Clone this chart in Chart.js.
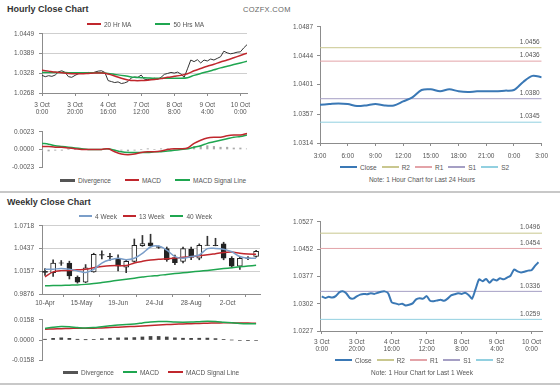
<!DOCTYPE html>
<html>
<head>
<meta charset="utf-8">
<script src="https://cdn.jsdelivr.net/npm/chart.js@4.4.1/dist/chart.umd.min.js"></script>
<style>
  body { margin: 0; background: #fff; font-family: "Liberation Sans", Arial, sans-serif; }
  #wrap { position: relative; width: 560px; height: 386px; overflow: hidden; }
  canvas { position: absolute; }
  .title { position: absolute; font-weight: bold; font-size: 9px; color: #333; line-height: 10px; }
  .brand { position: absolute; font-size: 7.5px; color: #666; letter-spacing: 0.3px; line-height: 9px; }
  .sep { position: absolute; left: 0; width: 560px; height: 2px; background: #c8c8c8; }
  .legend { position: absolute; display: flex; align-items: center; height: 8px; font-size: 6.5px; color: #555; white-space: nowrap; }
  .legend .mk { display: inline-block; margin-right: 3px; }
  .note { position: absolute; font-size: 6.5px; color: #555; line-height: 8px; transform: translateX(-50%); white-space: nowrap; }
</style>
</head>
<body>
<div id="wrap">
  <div class="title" style="left:7px;top:4px">Hourly Close Chart</div>
  <div class="brand" style="left:243px;top:5px">COZFX.COM</div>
  <div class="sep" style="top:191px"></div>
  <div class="title" style="left:7px;top:197px">Weekly Close Chart</div>
  <div class="sep" style="top:383px"></div>

  <canvas id="hourly-close" width="259" height="96" style="left:0;top:25px"></canvas>
  <canvas id="hourly-macd" width="259" height="53" style="left:0;top:123px"></canvas>
  <canvas id="day-close" width="274" height="144" style="left:280px;top:19px"></canvas>
  <canvas id="weekly-close" width="268" height="91" style="left:0;top:217px"></canvas>
  <canvas id="weekly-macd" width="270" height="58" style="left:0;top:311px"></canvas>
  <canvas id="lastweek-close" width="272" height="139" style="left:280px;top:214px"></canvas>
</div>

<script>
// --- data ---

// hourly chart: close every 2 hours from 3 Oct 0:00, the rest every 4 hours
const HOURLY_TICKS = [["3 Oct", "0:00"], ["3 Oct", "20:00"], ["4 Oct", "16:00"], ["7 Oct", "12:00"], ["8 Oct", "8:00"], ["9 Oct", "4:00"], ["10 Oct", "0:00"]];
const HOURLY_Y_TICKS = [1.0268, 1.0328, 1.0389, 1.0449];
const HOURLY_CLOSE = [
  1.0322, 1.0318, 1.0321, 1.0319, 1.0323, 1.0333, 1.0336, 1.0331, 1.0318, 1.0316,
  1.0322, 1.0327, 1.0329, 1.0328, 1.0331, 1.0329, 1.0332, 1.0335, 1.0336, 1.0331,
  1.0306, 1.0303, 1.0300, 1.0302, 1.0297, 1.0299, 1.0303, 1.0314, 1.0317, 1.0316,
  1.0323, 1.0310, 1.0309, 1.0311, 1.0313, 1.0310, 1.0316, 1.0325, 1.0328, 1.0331,
  1.0329, 1.0332, 1.0326, 1.0316, 1.0342, 1.0369, 1.0364, 1.0370, 1.0360, 1.0369,
  1.0366, 1.0372, 1.0369, 1.0374, 1.0379, 1.0396, 1.0391, 1.0388, 1.0390, 1.0393,
  1.0394, 1.0406, 1.0416
];
const HOURLY_MA20 = [
  1.0338, 1.0335, 1.0332, 1.0330, 1.0328, 1.0327, 1.0327, 1.0328, 1.0329, 1.0329,
  1.0326, 1.0320, 1.0313, 1.0308, 1.0306, 1.0306, 1.0307, 1.0309, 1.0312, 1.0316,
  1.0319, 1.0322, 1.0327, 1.0336, 1.0343, 1.0350, 1.0356, 1.0363, 1.0369, 1.0376,
  1.0383, 1.0390
];
const HOURLY_MA50 = [
  1.0331, 1.0331, 1.0331, 1.0331, 1.0330, 1.0330, 1.0330, 1.0330, 1.0330, 1.0330,
  1.0328, 1.0325, 1.0322, 1.0319, 1.0316, 1.0315, 1.0314, 1.0313, 1.0313, 1.0313,
  1.0313, 1.0313, 1.0315, 1.0322, 1.0328, 1.0333, 1.0339, 1.0345, 1.0350, 1.0355,
  1.0360, 1.0365
];
const HOURLY_MACD_TICKS = [-0.0023, 0, 0.0023];
const HOURLY_MACD = [
  0.0004, 0.0004, 0.0003, 0.0003, 0.0002, 0.0001, 0.0000, 0.0000, 0.0000, 0.0000,
  0.0001, -0.0003, -0.0006, -0.0007, -0.0006, -0.0004, -0.0003, -0.0003, -0.0002, 0.0000,
  0.0001, 0.0001, 0.0002, 0.0008, 0.0012, 0.0015, 0.0016, 0.0016, 0.0018, 0.0019,
  0.0019, 0.0021
];
const HOURLY_SIGNAL = [
  0.0008, 0.0007, 0.0005, 0.0004, 0.0003, 0.0002, 0.0001, 0.0000, 0.0000, 0.0000,
  0.0001, -0.0001, -0.0003, -0.0004, -0.0004, -0.0004, -0.0004, -0.0003, -0.0003, -0.0002,
  -0.0001, 0.0000, 0.0001, 0.0003, 0.0005, 0.0008, 0.0010, 0.0012, 0.0014, 0.0016,
  0.0017, 0.0019
];
const HOURLY_DIVERGENCE = [
  -0.0002, -0.0002, -0.0001, -0.0001, 0.0000, 0.0000, 0.0000, 0.0000, 0.0000, 0.0000,
  0.0000, -0.0001, -0.0001, -0.0002, -0.0001, 0.0000, 0.0001, 0.0000, 0.0001, 0.0001,
  0.0001, 0.0001, 0.0001, 0.0004, 0.0005, 0.0005, 0.0004, 0.0003, 0.0003, 0.0002,
  0.0002, 0.0001
];

// last 24 hours, one value per hour from 3:00
const DAY_TICKS = ["3:00", "6:00", "9:00", "12:00", "15:00", "18:00", "21:00", "0:00", "3:00"];
const DAY_Y_TICKS = [1.0314, 1.0357, 1.0401, 1.0444, 1.0487];
const DAY_CLOSE = [
  1.0371, 1.0372, 1.0373, 1.0372, 1.0369, 1.0370, 1.0372, 1.0370, 1.0370, 1.0376,
  1.0382, 1.0393, 1.0394, 1.0391, 1.0394, 1.0391, 1.0390, 1.0391, 1.0391, 1.0391,
  1.0392, 1.0393, 1.0405, 1.0414, 1.0412
];
const DAY_LEVELS = [1.0456, 1.0436, 1.0380, 1.0345]; // R2, R1, S1, S2

// weekly candles from 10-Apr
const WEEK_TICKS = ["10-Apr", "15-May", "19-Jun", "24-Jul", "28-Aug", "2-Oct"];
const WEEK_Y_TICKS = [0.9876, 1.0157, 1.0437, 1.0718];
const WEEK_OPEN = [
  1.0155, 1.0140, 1.0262, 1.0259, 1.0083, 1.0022, 1.0149, 1.0362, 1.0342, 1.0318,
  1.0208, 1.0279, 1.0475, 1.0508, 1.0462, 1.0437, 1.0327, 1.0280, 1.0430, 1.0318,
  1.0481, 1.0478, 1.0496, 1.0318, 1.0220, 1.0322, 1.0340
];
const WEEK_HIGH = [
  1.0190, 1.0299, 1.0290, 1.0282, 1.0100, 1.0240, 1.0380, 1.0410, 1.0378, 1.0359,
  1.0299, 1.0556, 1.0600, 1.0615, 1.0470, 1.0457, 1.0358, 1.0457, 1.0457, 1.0496,
  1.0590, 1.0565, 1.0516, 1.0338, 1.0338, 1.0340, 1.0415
];
const WEEK_LOW = [
  1.0105, 1.0093, 1.0230, 1.0062, 1.0010, 1.0015, 1.0145, 1.0311, 1.0292, 1.0160,
  1.0140, 1.0270, 1.0465, 1.0465, 1.0440, 1.0280, 1.0240, 1.0259, 1.0299, 1.0299,
  1.0477, 1.0472, 1.0299, 1.0200, 1.0181, 1.0300, 1.0330
];
const WEEK_CLOSE = [
  1.0143, 1.0259, 1.0256, 1.0101, 1.0022, 1.0200, 1.0366, 1.0356, 1.0336, 1.0220,
  1.0279, 1.0477, 1.0500, 1.0470, 1.0452, 1.0300, 1.0262, 1.0437, 1.0327, 1.0477,
  1.0476, 1.0474, 1.0318, 1.0220, 1.0318, 1.0316, 1.0405
];
const WEEK_MA4 = [
  1.0181, 1.0183, 1.0191, 1.0181, 1.0161, 1.0142, 1.0181, 1.0259, 1.0299, 1.0318,
  1.0299, 1.0318, 1.0378, 1.0457, 1.0469, 1.0418, 1.0339, 1.0318, 1.0339, 1.0358,
  1.0437, 1.0440, 1.0430, 1.0398, 1.0339, 1.0318, 1.0318
];
const WEEK_MA13 = [
  1.0089, 1.0150, 1.0165, 1.0168, 1.0175, 1.0181, 1.0200, 1.0215, 1.0225, 1.0227,
  1.0227, 1.0260, 1.0280, 1.0295, 1.0305, 1.0312, 1.0320, 1.0330, 1.0338, 1.0348,
  1.0360, 1.0375, 1.0390, 1.0395, 1.0380, 1.0371, 1.0368
];
const WEEK_MA40 = [
  0.9978, 0.9980, 0.9982, 0.9985, 0.9988, 0.9995, 1.0005, 1.0018, 1.0032, 1.0045,
  1.0058, 1.0072, 1.0085, 1.0097, 1.0106, 1.0118, 1.0128, 1.0138, 1.0148, 1.0158,
  1.0168, 1.0178, 1.0190, 1.0200, 1.0212, 1.0222, 1.0230
];
const WEEK_MACD_TICKS = [-0.0158, 0, 0.0158];
const WEEK_MACD = [
  0.0091, 0.0100, 0.0106, 0.0104, 0.0098, 0.0094, 0.0098, 0.0105, 0.0112, 0.0118,
  0.0121, 0.0126, 0.0134, 0.0142, 0.0146, 0.0145, 0.0141, 0.0140, 0.0141, 0.0144,
  0.0147, 0.0145, 0.0140, 0.0135, 0.0130, 0.0128, 0.0128
];
const WEEK_SIGNAL = [
  0.0085, 0.0087, 0.0089, 0.0091, 0.0092, 0.0092, 0.0093, 0.0095, 0.0098, 0.0101,
  0.0104, 0.0107, 0.0110, 0.0114, 0.0118, 0.0121, 0.0124, 0.0126, 0.0128, 0.0130,
  0.0132, 0.0134, 0.0135, 0.0135, 0.0134, 0.0133, 0.0132
];
const WEEK_DIVERGENCE = [
  0.0006, 0.0013, 0.0017, 0.0013, 0.0006, 0.0002, 0.0005, 0.0010, 0.0014, 0.0017,
  0.0017, 0.0019, 0.0024, 0.0028, 0.0028, 0.0024, 0.0017, 0.0014, 0.0013, 0.0014,
  0.0015, 0.0011, 0.0005, 0.0000, -0.0004, -0.0005, -0.0004
];

// last week, hourly: same close series as the hourly chart
const LASTWEEK_Y_TICKS = [1.0227, 1.0302, 1.0377, 1.0452, 1.0527];
const LASTWEEK_LEVELS = [1.0496, 1.0454, 1.0336, 1.0259]; // R2, R1, S1, S2

// --- styles ---

const FONT_FAMILY = "'Liberation Sans', Arial, sans-serif";
const FONT = { family: FONT_FAMILY, size: 6.5, lineHeight: 1.2 };
const TEXT_COLOR = "#555";
const AXIS_COLOR = "#8c8c8c";
const GRID_COLOR = "#cfcfcf";

const RED = "#c0272d";
const GREEN = "#1fa650";
const BLUE = "#3a78b5";
const LEVEL_COLORS = ["#c9c78f", "#e3a3a8", "#a59fc4", "#92d0e0"];
const LEVEL_NAMES = ["R2", "R1", "S1", "S2"];

Chart.defaults.animation = false;
Chart.defaults.responsive = false;
Chart.defaults.plugins.legend.display = false;
Chart.defaults.plugins.tooltip.enabled = false;
Chart.defaults.elements.point.radius = 0;

// --- helpers ---

function points(values, step) {
  return values.map(function (v, i) {
    return { x: i * step, y: v };
  });
}

function scale_y(ticks, width, pad, grid) {
  return {
    type: "linear",
    min: ticks[0],
    max: ticks[ticks.length - 1],
    afterFit: function (s) { s.width = width; },
    afterBuildTicks: function (s) {
      s.ticks = ticks.map(function (v) { return { value: v }; });
    },
    ticks: {
      font: FONT, color: TEXT_COLOR, padding: pad,
      callback: function (v) { return v.toFixed(4); },
    },
    grid: { drawOnChartArea: grid, color: GRID_COLOR, tickLength: 3, tickColor: AXIS_COLOR },
    border: { color: AXIS_COLOR },
  };
}

function scale_x(min, max, labels, step, height, pad) {
  return {
    type: "linear",
    min: min,
    max: max,
    offset: false,
    afterFit: function (s) { s.height = height; },
    afterBuildTicks: function (s) {
      s.ticks = labels.map(function (l, i) { return { value: i * step }; });
    },
    ticks: {
      font: FONT, color: TEXT_COLOR, padding: pad, maxRotation: 0, autoSkip: false,
      callback: function (v, i) { return labels[i]; },
    },
    grid: { drawOnChartArea: false, tickLength: 3, tickColor: AXIS_COLOR },
    border: { color: AXIS_COLOR },
  };
}

function line(label, data, color, width, tension) {
  return {
    type: "line", label: label, data: data, borderColor: color,
    borderWidth: width, tension: tension || 0, fill: false,
  };
}

function levels(values, min, max) {
  return values.map(function (v, i) {
    return line(LEVEL_NAMES[i], [{ x: min, y: v }, { x: max, y: v }], LEVEL_COLORS[i], 1);
  });
}

// writes the R/S level values above their lines
const levelLabelPlugin = {
  id: "levelLabels",
  afterDatasetsDraw: function (chart, args, opts) {
    if (!opts.values) return;
    const ctx = chart.ctx;
    const y = chart.scales.y;
    ctx.save();
    ctx.font = "6.5px " + FONT_FAMILY;
    ctx.fillStyle = TEXT_COLOR;
    ctx.textAlign = "right";
    ctx.textBaseline = "middle";
    opts.values.forEach(function (v) {
      ctx.fillText(v.toFixed(4), chart.chartArea.right - 2, y.getPixelForValue(v) - 5.5);
    });
    ctx.restore();
  },
};

function legend_render(left, cy, gap, items) {
  const el = document.createElement("div");
  el.className = "legend";
  el.style.left = left + "px";
  el.style.top = (cy - 4) + "px";
  items.forEach(function (it, i) {
    const mk = document.createElement("span");
    mk.className = "mk";
    mk.style.width = it.w + "px";
    mk.style.height = (it.box ? 3 : 1.5) + "px";
    mk.style.background = it.color;
    const tx = document.createElement("span");
    tx.textContent = it.text;
    if (i < items.length - 1) tx.style.marginRight = gap + "px";
    el.appendChild(mk);
    el.appendChild(tx);
  });
  document.getElementById("wrap").appendChild(el);
}

function note_render(cx, cy, text) {
  const el = document.createElement("div");
  el.className = "note";
  el.style.left = cx + "px";
  el.style.top = (cy - 4) + "px";
  el.textContent = text;
  document.getElementById("wrap").appendChild(el);
}

// --- charts ---

new Chart(document.getElementById("hourly-close"), {
  type: "line",
  data: {
    datasets: [
      line("20 Hr MA", points(HOURLY_MA20, 4), RED, 1.5, 0.3),
      line("50 Hrs MA", points(HOURLY_MA50, 4), GREEN, 1.5, 0.3),
      line("Close", points(HOURLY_CLOSE, 2), "#333", 1),
    ],
  },
  options: {
    layout: { padding: { top: 6, right: 12, left: 0, bottom: 0 } },
    scales: {
      x: scale_x(0, 124, HOURLY_TICKS, 20, 28, 5),
      y: scale_y(HOURLY_Y_TICKS, 42, 5, true),
    },
  },
});

new Chart(document.getElementById("hourly-macd"), {
  type: "line",
  data: {
    datasets: [
      line("MACD", points(HOURLY_MACD, 4), RED, 1.5, 0.3),
      line("MACD Signal Line", points(HOURLY_SIGNAL, 4), GREEN, 1.5, 0.3),
      {
        type: "bar", label: "Divergence", data: points(HOURLY_DIVERGENCE, 4),
        backgroundColor: "#aaa", barThickness: 1.5, grouped: false,
      },
    ],
  },
  options: {
    layout: { padding: { top: 6, right: 12, left: 0, bottom: 5 } },
    scales: {
      x: { type: "linear", min: 0, max: 124, display: false, offset: false },
      y: scale_y(HOURLY_MACD_TICKS, 42, 5, false),
    },
  },
});

new Chart(document.getElementById("day-close"), {
  type: "line",
  data: {
    datasets: [line("Close", points(DAY_CLOSE, 1), BLUE, 2, 0.3)].concat(levels(DAY_LEVELS, 0, 24)),
  },
  options: {
    layout: { padding: { top: 6, right: 10, left: 0, bottom: 0 } },
    plugins: { levelLabels: { values: DAY_LEVELS } },
    scales: {
      x: scale_x(0, 24, DAY_TICKS, 3, 20, 6),
      y: scale_y(DAY_Y_TICKS, 40, 4, false),
    },
  },
  plugins: [levelLabelPlugin],
});

const candleBodies = WEEK_OPEN.map(function (o, i) {
  return { x: i, y: [o, WEEK_CLOSE[i]] };
});
const candleWicks = WEEK_LOW.map(function (l, i) {
  return { x: i, y: [l, WEEK_HIGH[i]] };
});
const bodyColors = WEEK_OPEN.map(function (o, i) {
  return WEEK_CLOSE[i] >= o ? "#fff" : "#222";
});

new Chart(document.getElementById("weekly-close"), {
  type: "bar",
  data: {
    datasets: [
      line("4 Week", points(WEEK_MA4, 1), "#7b9ec9", 1.5, 0.3),
      line("13 Week", points(WEEK_MA13, 1), RED, 1.5, 0.3),
      line("40 Week", points(WEEK_MA40, 1), GREEN, 1.5, 0.3),
      {
        type: "bar", label: "Body", data: candleBodies, backgroundColor: bodyColors,
        borderColor: "#222", borderWidth: 1, borderSkipped: false, barThickness: 5, grouped: false,
      },
      {
        type: "bar", label: "Range", data: candleWicks, backgroundColor: "#333",
        borderWidth: 0, barThickness: 1, grouped: false,
      },
    ],
  },
  options: {
    layout: { padding: { top: 6, right: 8, left: 0, bottom: 0 } },
    scales: {
      x: scale_x(-0.37, 26.48, WEEK_TICKS, 4.5, 14, 2),
      y: scale_y(WEEK_Y_TICKS, 42, 5, true),
    },
  },
});

new Chart(document.getElementById("weekly-macd"), {
  type: "line",
  data: {
    datasets: [
      line("MACD", points(WEEK_MACD, 1), GREEN, 1.5, 0.3),
      line("MACD Signal Line", points(WEEK_SIGNAL, 1), RED, 1.5, 0.3),
      {
        type: "bar", label: "Divergence", data: points(WEEK_DIVERGENCE, 1),
        backgroundColor: "#444", barThickness: 3, grouped: false,
      },
    ],
  },
  options: {
    layout: { padding: { top: 6, right: 8, left: 0, bottom: 5 } },
    scales: {
      x: { type: "linear", min: -0.37, max: 26.73, display: false, offset: false },
      y: scale_y(WEEK_MACD_TICKS, 42, 5, false),
    },
  },
});

new Chart(document.getElementById("lastweek-close"), {
  type: "line",
  data: {
    datasets: [line("Close", points(HOURLY_CLOSE, 2), BLUE, 2, 0.2)].concat(levels(LASTWEEK_LEVELS, -1, 126)),
  },
  options: {
    layout: { padding: { top: 6, right: 10, left: 0, bottom: 0 } },
    plugins: { levelLabels: { values: LASTWEEK_LEVELS } },
    scales: {
      x: scale_x(-1, 126, HOURLY_TICKS, 20, 22, 4),
      y: scale_y(LASTWEEK_Y_TICKS, 40, 4, false),
    },
  },
  plugins: [levelLabelPlugin],
});

// --- legends and notes ---

const closeLegend = [{ w: 17, color: BLUE, text: "Close" }].concat(LEVEL_NAMES.map(function (n, i) {
  return { w: 17, color: LEVEL_COLORS[i], text: n };
}));

legend_render(87, 24, 24, [
  { w: 14, color: RED, text: "20 Hr MA" },
  { w: 15, color: GREEN, text: "50 Hrs MA" },
]);
legend_render(60, 180, 14, [
  { w: 15, color: "#555", box: true, text: "Divergence" },
  { w: 14, color: RED, text: "MACD" },
  { w: 15, color: GREEN, text: "MACD Signal Line" },
]);
legend_render(340, 167, 5, closeLegend);
note_render(422, 180, "Note: 1 Hour Chart for Last 24 Hours");

legend_render(79, 216, 6, [
  { w: 13, color: "#7b9ec9", text: "4 Week" },
  { w: 13, color: RED, text: "13 Week" },
  { w: 13, color: GREEN, text: "40 Week" },
]);
legend_render(63, 372, 9, [
  { w: 15, color: "#555", box: true, text: "Divergence" },
  { w: 14, color: GREEN, text: "MACD" },
  { w: 15, color: RED, text: "MACD Signal Line" },
]);
legend_render(335, 360, 5, closeLegend);
note_render(422, 373, "Note: 1 Hour Chart for Last 1 Week");
</script>
</body>
</html>
